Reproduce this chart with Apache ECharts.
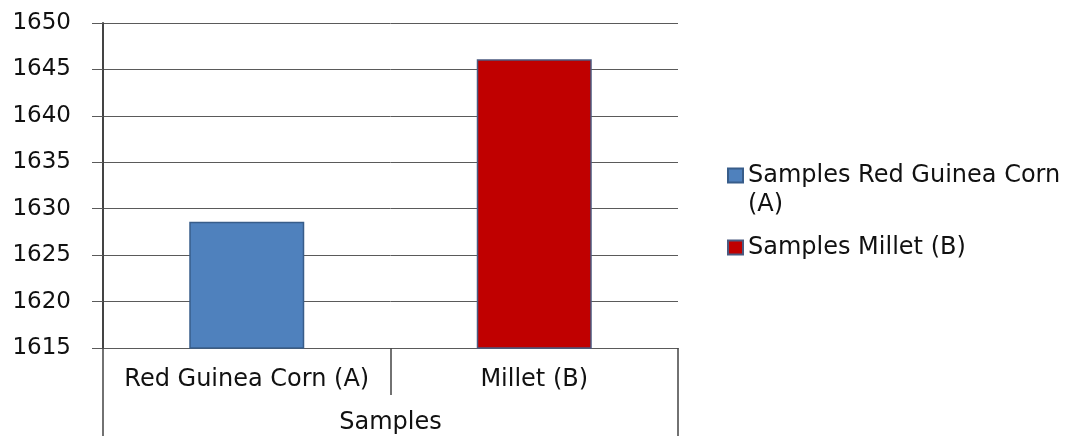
<!DOCTYPE html>
<html>
<head>
<meta charset="utf-8">
<script src="https://cdn.jsdelivr.net/npm/echarts@6/dist/echarts.min.js"></script>
<style>
  html, body { margin: 0; padding: 0; background: #ffffff; }
  #chart { width: 1077px; height: 436px; }
</style>
</head>
<body>
<div id="chart"></div>
<script>
// Sample categories and measured values
const categories = ['Red Guinea Corn (A)', 'Millet (B)'];
const groupLabel = 'Samples';
const seriesNames = ['Samples Red Guinea Corn (A)', 'Samples Millet (B)'];
const values = [1628.6, 1646.1];
const seriesColors = ['#4f81bd', '#c00000'];
const seriesBorders = ['#385d8a', '#4b5a80'];
const yMin = 1615;
const yMax = 1650;
const yStep = 5;

const FONT = 'DejaVu Sans';
const TEXT = '#111111';

// one series per sample, each filling only its own category
const series = seriesNames.map((name, i) => ({
  name: name,
  type: 'bar',
  barWidth: '40%',
  barGap: '-100%',
  itemStyle: { color: seriesColors[i], borderColor: seriesBorders[i], borderWidth: 1.5 },
  data: categories.map((c, j) => (j === i ? values[i] : '-'))
}));

const legendText = { fontFamily: FONT, fontSize: 24, color: TEXT, lineHeight: 29 };

const option = {
  animation: false,
  backgroundColor: '#ffffff',
  grid: { left: 103, right: 399, top: 23, bottom: 88, containLabel: false },
  legend: [
    {
      data: [seriesNames[0]],
      orient: 'vertical',
      left: 727,
      top: 132,
      padding: 0,
      itemWidth: 15,
      itemHeight: 14,
      icon: 'rect',
      textStyle: legendText,
      // keep the marker level with the first line of the wrapped name
      formatter: n => ' \n' + n.replace(' (', '\n(')
    },
    {
      data: [seriesNames[1]],
      orient: 'vertical',
      left: 727,
      top: 233,
      padding: 0,
      itemWidth: 15,
      itemHeight: 14,
      icon: 'rect',
      textStyle: legendText
    }
  ],
  xAxis: [
    {
      type: 'category',
      data: categories,
      position: 'bottom',
      axisLine: { show: true, lineStyle: { color: '#5a5a5a', width: 1 } },
      axisTick: { show: true, interval: 0, length: 47, lineStyle: { color: '#444444', width: 1.5 } },
      axisLabel: { interval: 0, margin: 20, fontFamily: FONT, fontSize: 24, color: TEXT },
      splitLine: { show: false }
    },
    {
      type: 'category',
      data: [groupLabel],
      position: 'bottom',
      axisLine: { show: false },
      axisTick: { show: true, interval: 0, length: 89, lineStyle: { color: '#444444', width: 1.5 } },
      axisLabel: { interval: 0, margin: 63, fontFamily: FONT, fontSize: 24, color: TEXT },
      splitLine: { show: false }
    }
  ],
  yAxis: {
    type: 'value',
    min: yMin,
    max: yMax,
    interval: yStep,
    axisLine: { show: true, lineStyle: { color: '#444444', width: 2 } },
    axisTick: { show: true, length: 11, lineStyle: { color: '#5a5a5a', width: 1 } },
    axisLabel: {
      margin: 32, fontFamily: FONT, fontSize: 23, color: TEXT,
      formatter: v => String(v)
    },
    splitLine: { show: true, lineStyle: { color: '#5a5a5a', width: 1 } }
  },
  series: series
};

const chart = echarts.init(document.getElementById('chart'), null, { renderer: 'canvas' });
chart.setOption(option);
</script>
</body>
</html>
